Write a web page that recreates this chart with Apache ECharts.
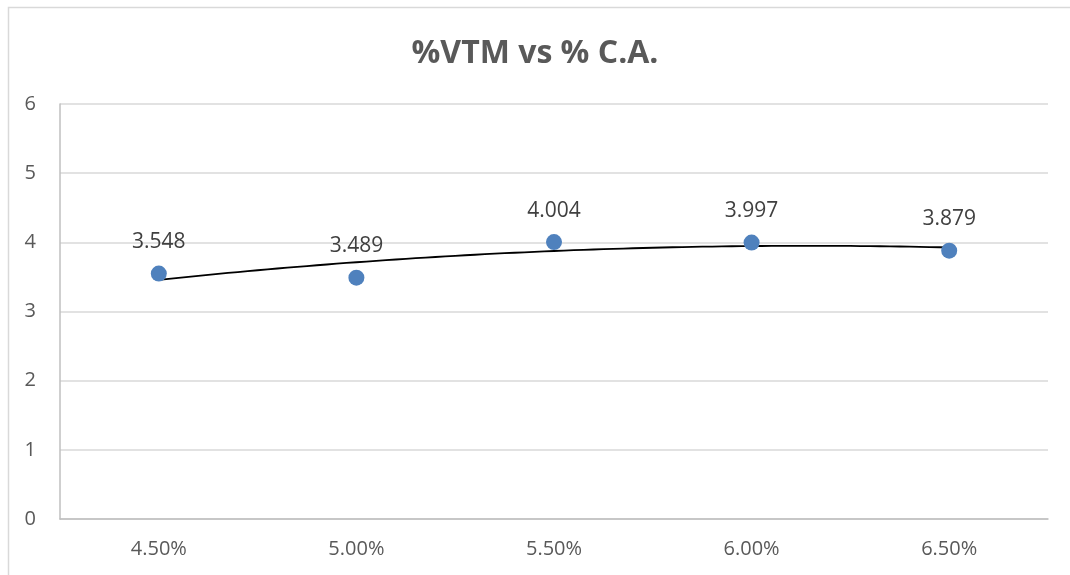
<!DOCTYPE html>
<html>
<head>
<meta charset="utf-8">
<script src="https://cdn.jsdelivr.net/npm/echarts@6/dist/echarts.min.js"></script>
<style>
html,body{margin:0;padding:0;background:#fff;}
#c{width:1070px;height:575px;}
</style>
</head>
<body>
<div id="c"></div>
<script>
var categories = ['4.50%', '5.00%', '5.50%', '6.00%', '6.50%'];
var values = [3.548, 3.489, 4.004, 3.997, 3.879];
var yTicks = [0, 1, 2, 3, 4, 5, 6];
var titleText = '%VTM vs % C.A.';

// Order-2 polynomial trendline (least squares) computed from the data
function polyFit2(ys) {
  var n = ys.length, sx = 0, sx2 = 0, sx3 = 0, sx4 = 0, sy = 0, sxy = 0, sx2y = 0;
  for (var i = 0; i < n; i++) {
    var x = i, y = ys[i];
    sx += x; sx2 += x * x; sx3 += x * x * x; sx4 += x * x * x * x;
    sy += y; sxy += x * y; sx2y += x * x * y;
  }
  var A = [[n, sx, sx2, sy], [sx, sx2, sx3, sxy], [sx2, sx3, sx4, sx2y]];
  for (var c = 0; c < 3; c++) {
    for (var r = c + 1; r < 3; r++) {
      var f = A[r][c] / A[c][c];
      for (var k = c; k < 4; k++) A[r][k] -= f * A[c][k];
    }
  }
  var coef = [0, 0, 0];
  for (var r2 = 2; r2 >= 0; r2--) {
    var s = A[r2][3];
    for (var k2 = r2 + 1; k2 < 3; k2++) s -= A[r2][k2] * coef[k2];
    coef[r2] = s / A[r2][r2];
  }
  return coef;
}
var coef = polyFit2(values);
var trend = [];
for (var i = 0; i <= 80; i++) {
  var x = (values.length - 1) * i / 80;
  trend.push([x, coef[0] + coef[1] * x + coef[2] * x * x]);
}

var chart = echarts.init(document.getElementById('c'));
chart.setOption({
  animation: false,
  backgroundColor: '#fff',
  graphic: [{
    type: 'rect', left: 6, top: 5, silent: true,
    shape: {width: 1100, height: 620},
    style: {fill: 'none', stroke: '#d9d9d9', lineWidth: 1.5}
  }],
  title: {
    text: titleText, left: 'center', top: 33,
    textStyle: {fontFamily: 'Open Sans', fontWeight: 'bold', fontSize: 32, color: '#595959'}
  },
  grid: {left: 60, right: 22, top: 104, bottom: 56, containLabel: false},
  xAxis: [{
    type: 'category', data: categories, boundaryGap: true,
    axisLine: {show: true, onZero: false, lineStyle: {color: '#bfbfbf', width: 1.5}},
    axisTick: {show: false},
    axisLabel: {color: '#595959', fontFamily: 'Open Sans', fontSize: 20, margin: 20}
  }, {
    type: 'value', min: -0.5, max: values.length - 0.5, show: false
  }],
  yAxis: {
    type: 'value', min: yTicks[0], max: yTicks[yTicks.length - 1], interval: 1,
    axisLine: {show: true, onZero: false, lineStyle: {color: '#bfbfbf', width: 1.5}},
    axisTick: {show: false},
    splitLine: {lineStyle: {color: '#d9d9d9', width: 1.5}},
    axisLabel: {color: '#595959', fontFamily: 'Open Sans', fontSize: 20, margin: 24}
  },
  series: [{
    type: 'line', xAxisIndex: 1, data: trend, showSymbol: false, symbol: 'none',
    lineStyle: {color: '#000', width: 1.8}, z: 3, silent: true
  }, {
    type: 'scatter', data: values, symbolSize: 16,
    itemStyle: {color: '#4f81bd', opacity: 1}, z: 4,
    label: {
      show: true, position: 'top', distance: 13,
      formatter: function (p) { return p.value.toFixed(3); },
      color: '#404040', fontFamily: 'Open Sans', fontSize: 21
    }
  }]
});
</script>
</body>
</html>
